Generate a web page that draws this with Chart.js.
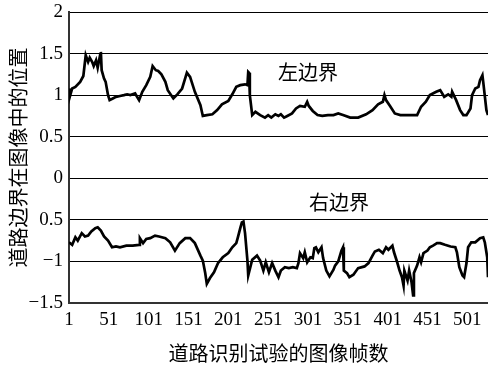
<!DOCTYPE html>
<html>
<head>
<meta charset="utf-8">
<script src="https://cdn.jsdelivr.net/npm/chart.js@4.4.0/dist/chart.umd.min.js"></script>
<style>
  body { margin: 0; background: #fff; }
  #wrap { width: 488px; height: 369px; }
</style>
</head>
<body>
<div id="wrap"><canvas id="myChart"></canvas></div>
<script>
// 左边界 (upper curve): frame number and position
const leftFrames = [1, 2, 5, 9, 15, 19, 22, 25, 27, 30,
  32, 35, 37, 40, 41, 42, 45, 47, 50, 52,
  56, 60, 65, 70, 74, 78, 84, 89, 93, 98,
  103, 106, 110, 113, 117, 122, 125, 132, 137, 143,
  149, 153, 159, 166, 169, 174, 181, 187, 193, 201,
  206, 211, 216, 222, 225, 226, 227, 228, 231, 235,
  241, 247, 251, 255, 260, 264, 267, 271, 275, 281,
  286, 291, 297, 300, 302, 307, 313, 319, 326, 333,
  339, 345, 354, 364, 374, 382, 389, 395, 397, 399,
  404, 410, 417, 429, 438, 443, 449, 454, 462, 467,
  472, 477, 481, 482, 487, 492, 496, 500, 505, 507,
  511, 515, 517, 520, 521, 525, 527];
const leftValues = [1.08, 0.98, 1.08, 1.10, 1.16, 1.23, 1.48, 1.40, 1.45, 1.40,
  1.35, 1.42, 1.33, 1.48, 1.52, 1.30, 1.20, 1.16, 1.00, 0.94,
  0.96, 0.98, 0.99, 1.00, 1.01, 1.00, 1.02, 0.94, 1.04, 1.12,
  1.22, 1.35, 1.30, 1.29, 1.25, 1.16, 1.06, 0.96, 1.01, 1.08,
  1.27, 1.22, 1.04, 0.88, 0.75, 0.76, 0.77, 0.82, 0.89, 0.93,
  1.01, 1.10, 1.12, 1.13, 1.12, 1.28, 1.27, 1.00, 0.76, 0.80,
  0.76, 0.73, 0.76, 0.73, 0.77, 0.75, 0.77, 0.73, 0.75, 0.78,
  0.84, 0.87, 0.86, 0.92, 0.87, 0.81, 0.76, 0.75, 0.76, 0.76,
  0.78, 0.76, 0.73, 0.73, 0.77, 0.82, 0.89, 0.92, 1.00, 0.94,
  0.87, 0.78, 0.76, 0.76, 0.76, 0.86, 0.92, 1.00, 1.04, 1.06,
  0.98, 1.01, 0.98, 1.04, 0.94, 0.82, 0.76, 0.76, 0.84, 1.00,
  1.08, 1.10, 1.18, 1.24, 1.16, 0.82, 0.76];

// 右边界 (lower curve)
const rightFrames = [1, 5, 9, 12, 17, 21, 25, 29, 34, 37,
  41, 45, 50, 55, 60, 65, 73, 81, 89, 90,
  94, 98, 103, 109, 114, 122, 128, 134, 140, 147,
  153, 159, 166, 169, 172, 174, 178, 183, 188, 194,
  201, 206, 211, 213, 216, 218, 220, 222, 225, 226,
  231, 237, 241, 245, 248, 252, 256, 260, 264, 267,
  272, 277, 282, 287, 289, 291, 295, 297, 300, 304,
  307, 309, 311, 314, 318, 320, 324, 328, 333, 335,
  339, 343, 345, 346, 350, 353, 358, 364, 372, 377,
  382, 385, 390, 395, 399, 402, 407, 409, 413, 416,
  419, 421, 422, 426, 428, 431, 433, 434, 438, 441,
  443, 446, 451, 454, 458, 463, 467, 473, 480, 486,
  488, 491, 495, 497, 500, 502, 506, 511, 517, 521,
  523, 525, 526, 527];
const rightValues = [-0.77, -0.80, -0.71, -0.75, -0.66, -0.70, -0.69, -0.64, -0.60, -0.59,
  -0.63, -0.70, -0.75, -0.83, -0.82, -0.83, -0.81, -0.81, -0.80, -0.72,
  -0.78, -0.73, -0.72, -0.69, -0.70, -0.72, -0.77, -0.87, -0.78, -0.72,
  -0.72, -0.78, -0.93, -0.99, -1.14, -1.27, -1.20, -1.13, -1.02, -0.95,
  -0.90, -0.83, -0.78, -0.71, -0.60, -0.53, -0.52, -0.66, -0.99, -1.17,
  -0.98, -0.93, -0.99, -1.11, -1.01, -1.13, -1.02, -1.11, -1.19, -1.11,
  -1.07, -1.08, -1.07, -1.08, -1.02, -0.90, -0.96, -0.89, -1.01, -0.95,
  -0.96, -0.84, -0.83, -0.89, -0.83, -0.96, -1.11, -1.18, -1.10, -1.05,
  -1.00, -0.87, -0.83, -1.11, -1.14, -1.19, -1.16, -1.08, -1.06, -1.02,
  -0.93, -0.88, -0.86, -0.90, -0.83, -0.86, -0.81, -0.89, -1.01, -1.11,
  -1.19, -1.29, -1.11, -1.23, -1.11, -1.25, -1.41, -1.14, -1.05, -0.95,
  -1.01, -0.90, -0.87, -0.83, -0.81, -0.78, -0.78, -0.80, -0.82, -0.83,
  -0.89, -1.07, -1.17, -1.19, -1.02, -0.83, -0.77, -0.77, -0.72, -0.71,
  -0.77, -0.89, -0.95, -1.19];

// axis ticks as printed in the figure
const xTicks = [1, 51, 101, 151, 201, 251, 301, 351, 401, 451, 501];
const yTicks = [-1.5, -1, -0.5, 0, 0.5, 1, 1.5, 2];
const yTickLabels = ['−1.5', '−1', '0.5', '0', '0.5', '1', '1.5', '2'];

const numFont = '"Liberation Serif", "Times New Roman", serif';
const cjkFont = '"Noto Sans CJK SC", sans-serif';

function toPoints(xs, ys) {
  return xs.map((f, i) => ({ x: f, y: ys[i] }));
}

// the two in-plot captions
const boundaryLabels = {
  id: 'boundaryLabels',
  afterDatasetsDraw(chart) {
    const { ctx, scales: { x, y } } = chart;
    ctx.save();
    ctx.font = '20px ' + cjkFont;
    ctx.fillStyle = '#000';
    ctx.textAlign = 'center';
    ctx.textBaseline = 'middle';
    ctx.fillText('左边界', x.getPixelForValue(301), y.getPixelForValue(1.27));
    ctx.fillText('右边界', x.getPixelForValue(340), y.getPixelForValue(-0.29));
    ctx.restore();
  }
};

const data = {
  datasets: [{
    label: '左边界',
    data: toPoints(leftFrames, leftValues),
    borderColor: '#000',
    borderWidth: 2.7,
    pointRadius: 0,
    tension: 0
  }, {
    label: '右边界',
    data: toPoints(rightFrames, rightValues),
    borderColor: '#000',
    borderWidth: 2.7,
    pointRadius: 0,
    tension: 0
  }]
};

const config = {
  type: 'line',
  data: data,
  options: {
    responsive: true,
    maintainAspectRatio: false,
    animation: false,
    layout: { padding: { top: 12, right: 0, left: 0, bottom: 0 } },
    plugins: { legend: { display: false }, tooltip: { enabled: false } },
    scales: {
      x: {
        type: 'linear',
        min: 1,
        max: 527,
        afterBuildTicks: (s) => { s.ticks = xTicks.map(v => ({ value: v })); },
        afterFit: (s) => { s.height = 66; s.paddingLeft = 0; s.paddingRight = 0; },
        grid: { display: false, drawTicks: false },
        border: { display: true, color: '#333', width: 2 },
        ticks: {
          color: '#000',
          font: { family: numFont, size: 19 },
          padding: 6,
          maxRotation: 0,
          autoSkip: false
        },
        title: {
          display: true,
          text: '道路识别试验的图像帧数',
          color: '#000',
          font: { family: cjkFont, size: 20 },
          padding: { top: 0, bottom: 4 }
        }
      },
      y: {
        min: -1.5,
        max: 2,
        afterBuildTicks: (s) => { s.ticks = yTicks.map(v => ({ value: v })); },
        afterFit: (s) => { s.width = 69; s.paddingTop = 0; s.paddingBottom = 0; },
        grid: { color: '#000', lineWidth: 1, drawTicks: false },
        border: { display: true, color: '#333', width: 2 },
        ticks: {
          color: '#000',
          font: { family: numFont, size: 19 },
          padding: 6,
          callback: (v) => yTickLabels[yTicks.indexOf(v)]
        },
        title: {
          display: true,
          text: '道路边界在图像中的位置',
          color: '#000',
          font: { family: cjkFont, size: 20 },
          padding: { top: 6, bottom: 0 }
        }
      }
    }
  },
  plugins: [boundaryLabels]
};

const myChart = new Chart(document.getElementById('myChart'), config);
</script>
</body>
</html>
